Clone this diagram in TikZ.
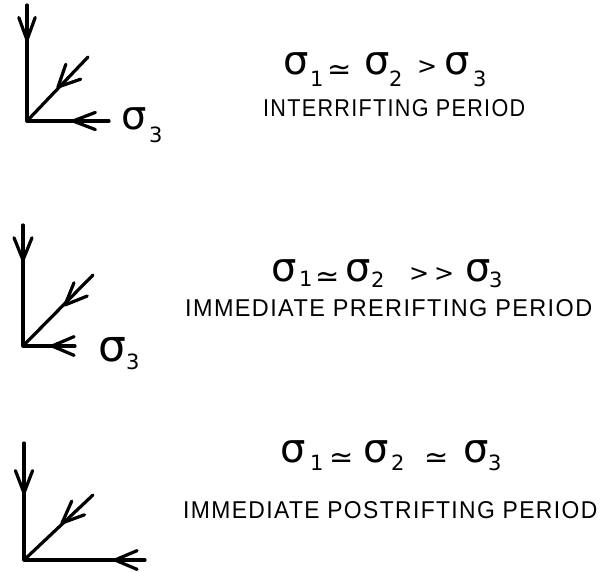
\documentclass[tikz,border=0pt]{standalone}
\usepackage{fontspec}
\usepackage{graphicx}
\newfontfamily\symfont{DejaVu Sans}
\newfontfamily\capfont[LetterSpace=6]{Liberation Sans}
\newcommand\sgm{{\fontsize{40}{44}\selectfont σ}}
\newcommand\bigsgm{{\fontsize{44}{48}\selectfont σ}}
\newcommand\dg[1]{{\fontsize{21}{24}\selectfont #1}}
\newcommand\simrel{\raisebox{-5pt}{\fontsize{29}{31}\selectfont ≃}}
\newcommand\gtrel{{\fontsize{24}{26}\selectfont >}}
\newcommand\gl[3]{\makebox[0pt][l]{\hspace*{#1pt}\raisebox{#2pt}{#3}}}
\newcommand\capt[2]{\resizebox{#1}{17pt}{\capfont #2}}
\newcommand\vhead[3]{\draw[axis] ($(#1)+(#2+#3:24)$) -- (#1) -- ($(#1)+(#2-#3:24)$);}
\usetikzlibrary{calc}
\tikzset{
  axis/.style={line width=3.2pt, line cap=round, line join=round},
  formula/.style={font=\symfont, inner sep=0pt, anchor=base west},
  caption/.style={inner sep=0pt, anchor=base west},
}
\begin{document}
\begin{tikzpicture}[x=1pt,y=1pt]
\useasboundingbox (0,0) rectangle (603,-572);
% ---------- panel 1
\coordinate (o1) at (27,-121);
\coordinate (v1) at (27,-5);
\coordinate (h1) at (109,-121);
\coordinate (d1) at (88,-57);
\draw[axis] (v1) -- (o1) -- (h1);
\draw[axis] (o1) -- (d1);
\coordinate (av1) at (27,-40);
\coordinate (ah1) at (73,-121);
\coordinate (ad1) at (58,-87);
\vhead{av1}{90}{20}
\vhead{ah1}{0}{21}
\vhead{ad1}{45}{26}
\node[formula] (s1) at (121,-130) {\gl{0}{0}{\sgm}\gl{28}{-13}{\dg{3}}\hspace*{40pt}};
\node[formula] (f1) at (283,-75) {\gl{0}{0}{\sgm}\gl{27}{-12}{\dg{1}}\gl{44}{0}{\simrel}%
  \gl{81}{0}{\sgm}\gl{106}{-12}{\dg{2}}\gl{134}{0}{\gtrel}%
  \gl{161}{0}{\sgm}\gl{190}{-12}{\dg{3}}\hspace*{205pt}};
\node[caption] (c1) at (263,-117) {\capt{262pt}{INTERRIFTING PERIOD}};
% ---------- panel 2
\coordinate (o2) at (23,-346);
\coordinate (v2) at (23,-225);
\coordinate (h2) at (75,-346);
\coordinate (d2) at (93,-275);
\draw[axis] (v2) -- (o2) -- (h2);
\draw[axis] (o2) -- (d2);
\coordinate (av2) at (23,-260);
\coordinate (ah2) at (52,-346);
\coordinate (ad2) at (65,-305);
\vhead{av2}{90}{22}
\vhead{ah2}{0}{23}
\vhead{ad2}{45}{23}
\node[formula] (s2) at (98,-362) {\gl{0}{0}{\bigsgm}\gl{28}{-8}{\dg{3}}\hspace*{42pt}};
\node[formula] (f2) at (271,-282) {\gl{0}{0}{\sgm}\gl{28}{-5}{\dg{1}}\gl{44}{0}{\simrel}%
  \gl{74}{0}{\sgm}\gl{100}{-6}{\dg{2}}\gl{138}{0}{\gtrel}\gl{163}{0}{\gtrel}%
  \gl{194}{0}{\sgm}\gl{218}{-6}{\dg{3}}\hspace*{230pt}};
\node[caption] (c2) at (185,-317) {\capt{407pt}{IMMEDIATE PRERIFTING PERIOD}};
% ---------- panel 3
\coordinate (o3) at (24,-560);
\coordinate (v3) at (24,-443);
\coordinate (h3) at (145,-560);
\coordinate (d3) at (93,-495);
\draw[axis] (v3) -- (o3) -- (h3);
\draw[axis] (o3) -- (d3);
\coordinate (av3) at (24,-493);
\coordinate (ah3) at (115,-560);
\coordinate (ad3) at (62,-523);
\vhead{av3}{90}{21}
\vhead{ah3}{0}{23}
\vhead{ad3}{43}{23}
\node[formula] (f3) at (280,-462) {\gl{0}{0}{\sgm}\gl{30}{-8}{\dg{1}}\gl{49}{0}{\simrel}%
  \gl{83}{0}{\sgm}\gl{111}{-8}{\dg{2}}\gl{144}{0}{\simrel}%
  \gl{183}{0}{\sgm}\gl{208}{-8}{\dg{3}}\hspace*{222pt}};
\node[caption] (c3) at (183,-518) {\capt{414pt}{IMMEDIATE POSTRIFTING PERIOD}};
\end{tikzpicture}
\end{document}
